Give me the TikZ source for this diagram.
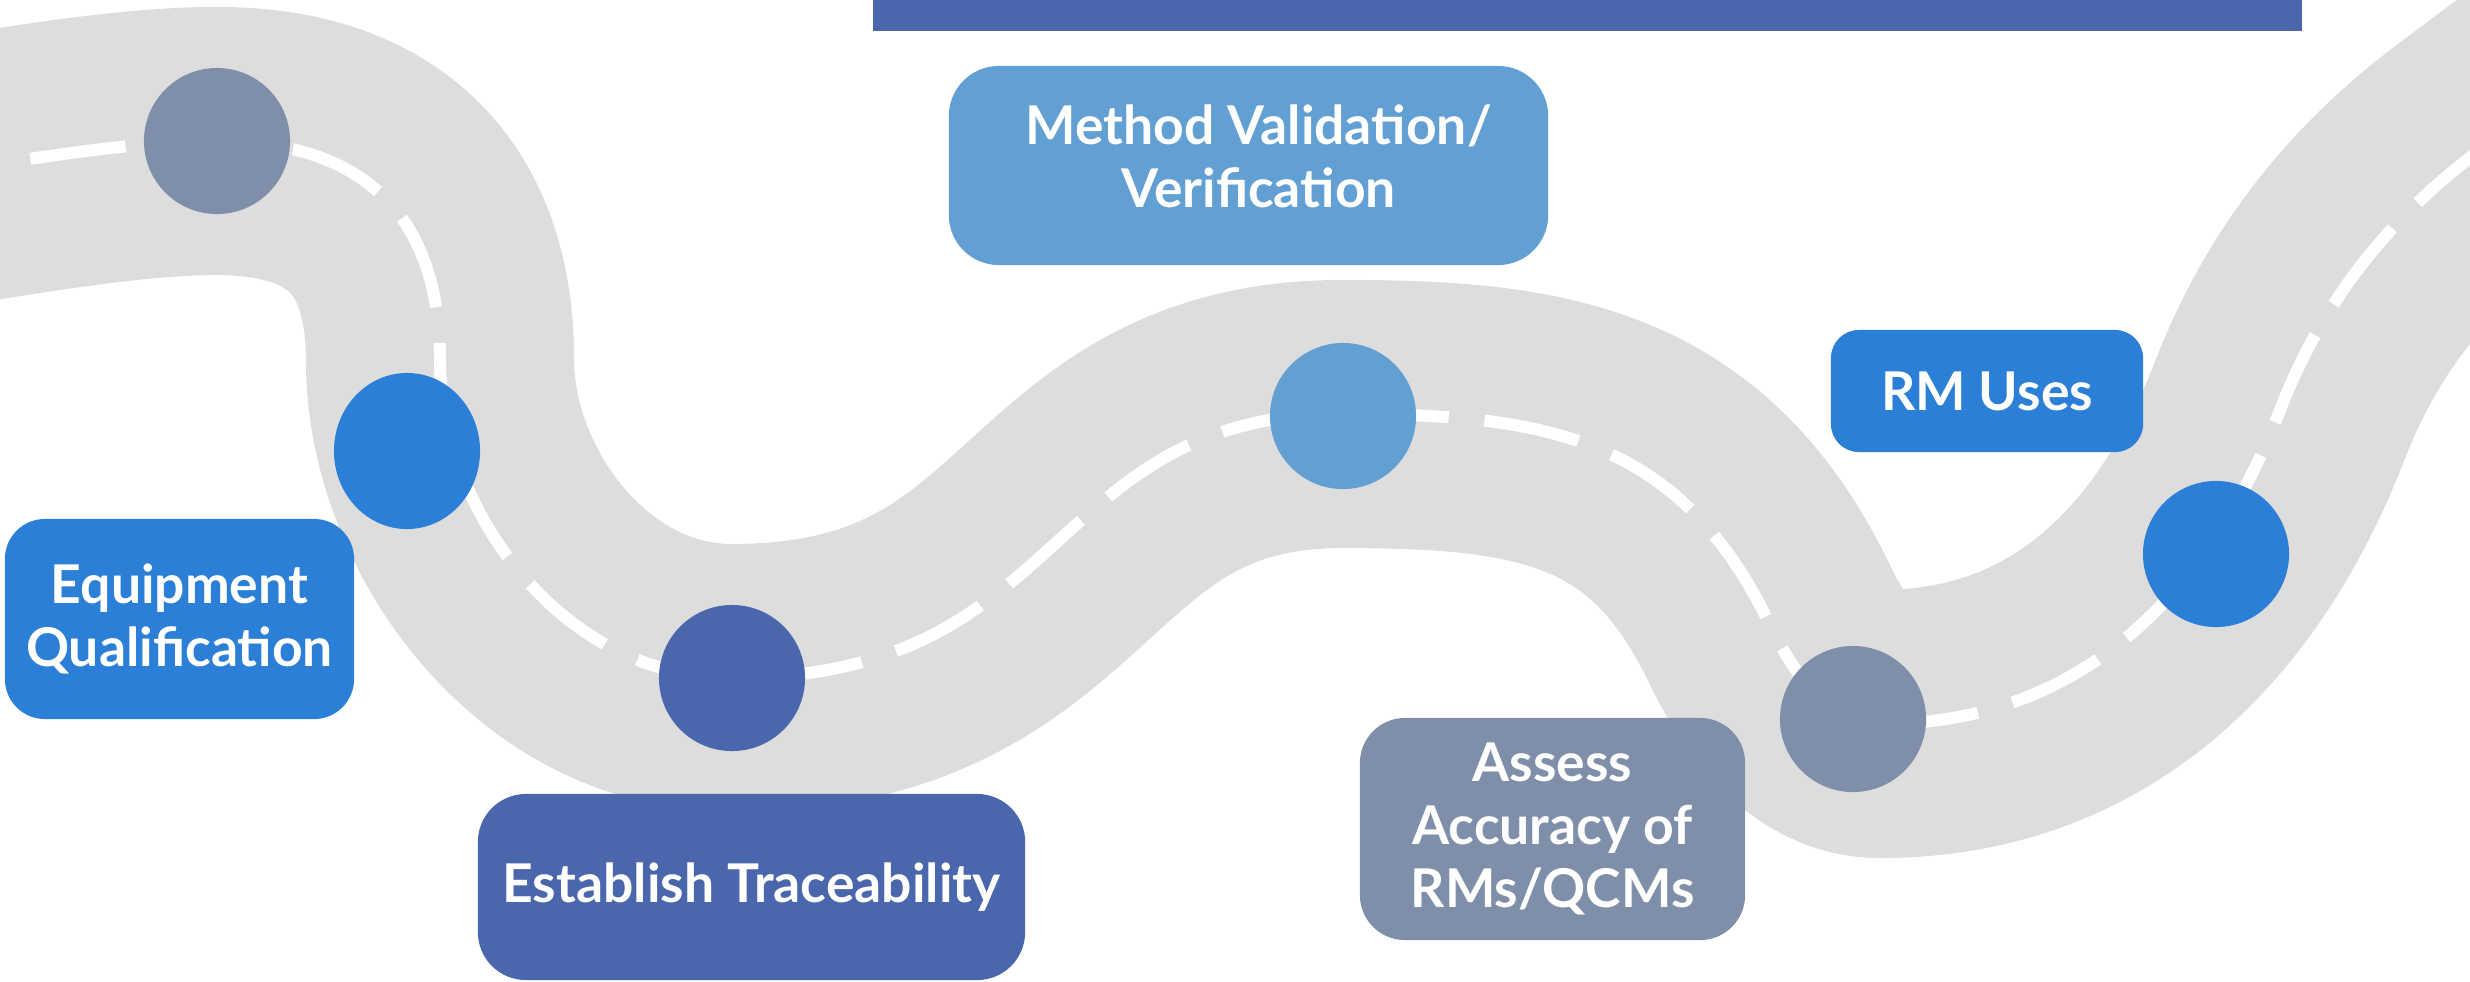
\documentclass[tikz,border=0pt]{standalone}
\usepackage{fontspec}
\setmainfont{Lato}
\usepackage{xcolor}
\usetikzlibrary{shapes.geometric}

\definecolor{roadgrey}{HTML}{DDDDDD}
\definecolor{slateblue}{HTML}{7F8FA9}
\definecolor{brightblue}{HTML}{2B7FD6}
\definecolor{navyblue}{HTML}{4A66AC}
\definecolor{skyblue}{HTML}{629FD2}

\tikzset{
  stop/.style={ellipse, fill=#1, inner sep=0pt, minimum width=1.46cm, minimum height=1.46cm},
  boxfont/.style={text=white, align=center, font=\bfseries\fontsize{15.2}{17.8}\selectfont},
  milestone/.style={fill=#1, boxfont, inner sep=0pt}
}

\begin{document}
\begin{tikzpicture}[x=0.01cm, y=-0.01cm]
\useasboundingbox (0,0) rectangle (2470,981);
\clip (0,0) rectangle (2470,981);

% Title bar
\fill[navyblue] (873,0) rectangle (2302,31);

% Road with dashed centre line
\draw[white, line width=0.12cm, dash pattern=on 0.96cm off 0.36cm,
      preaction={draw, roadgrey, solid, line width=2.68cm}]
  (-100,180) .. controls (20,160) and (130,141) .. (217,141)
  .. controls (357,141) and (440,210) .. (440,360)
  .. controls (440,510) and (562,678) .. (732,678)
  .. controls (1072,678) and (1043,414) .. (1343,414)
  .. controls (1543,414) and (1679,435) .. (1770,625)
  .. controls (1794,675) and (1830,724) .. (1880,724)
  .. controls (2100,724) and (2219,568) .. (2280,410)
  .. controls (2327,289) and (2400,210) .. (2480,150)
  -- (2560,90);

% Stops on the road
\node[stop=slateblue] (s1) at (217,141) {};
\node[stop=brightblue, minimum height=1.56cm] (s2) at (407,451) {};
\node[stop=navyblue] (s3) at (732,678) {};
\node[stop=skyblue] (s4) at (1343,416) {};
\node[stop=slateblue] (s5) at (1853,719) {};
\node[stop=brightblue] (s6) at (2216,554) {};

% Milestone boxes
\node[milestone=brightblue, rounded corners=0.4cm, minimum width=3.49cm, minimum height=2cm]
  (equip) at (179.5,619) {Equipment\\Qualification};
\node[milestone=navyblue, rounded corners=0.48cm, minimum width=5.47cm, minimum height=1.86cm]
  (trace) at (751.5,887) {Establish Traceability};
\node[milestone=skyblue, rounded corners=0.5cm, minimum width=5.99cm, minimum height=1.99cm]
  (method) at (1248.5,165.5) {};
\node[boxfont] (methodtext) at ([xshift=0.1cm, yshift=0.09cm]method.center)
  {Method Validation/\\Verification};
\node[milestone=brightblue, rounded corners=0.28cm, minimum width=3.12cm, minimum height=1.22cm]
  (uses) at (1987,391) {RM Uses};
\node[milestone=slateblue, rounded corners=0.45cm, minimum width=3.85cm, minimum height=2.22cm]
  (assess) at (1552.5,829) {Assess\\Accuracy of\\RMs/QCMs};
\end{tikzpicture}
\end{document}
